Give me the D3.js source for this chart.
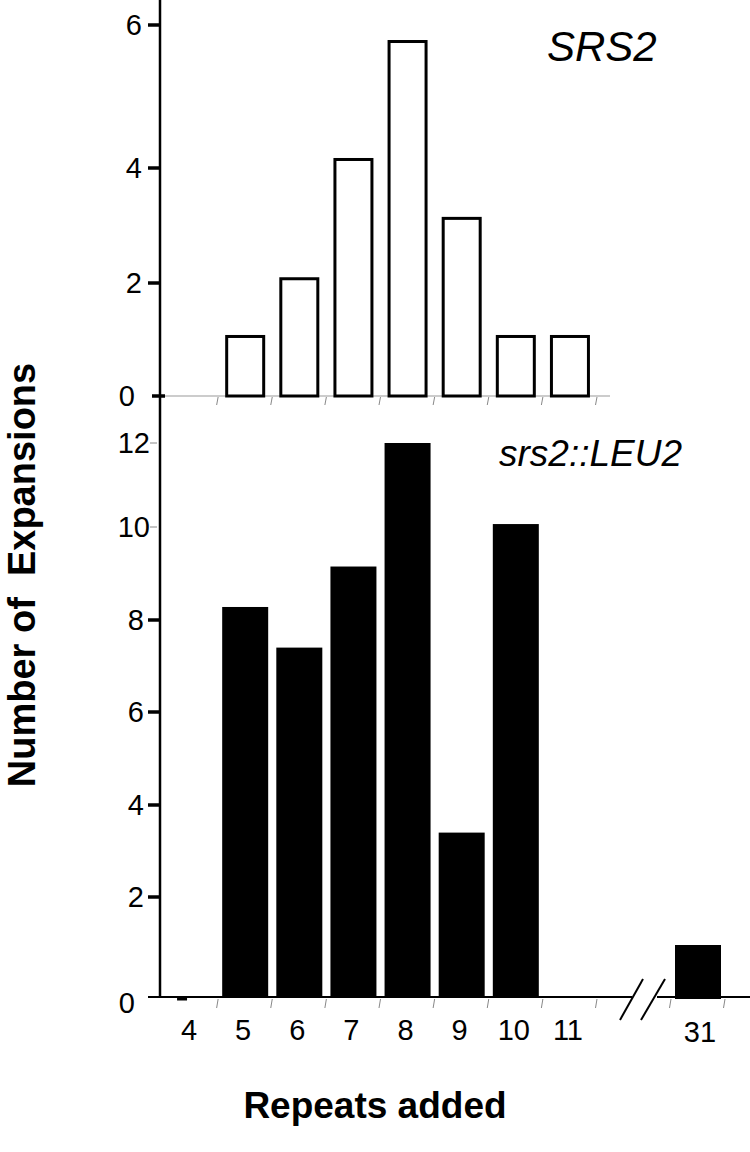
<!DOCTYPE html>
<html><head><meta charset="utf-8">
<script src="https://cdn.jsdelivr.net/npm/d3@7"></script>
<style>
body{margin:0;background:#fff;}
svg{display:block;font-family:"Liberation Sans",Arial,Helvetica,sans-serif;}
</style></head>
<body><svg id="c" width="750" height="1152"></svg>
<script>
// Data
const categories = [4,5,6,7,8,9,10,11];
const srs2Values = [0,1.08,2.1,4.14,5.79,3.15,1.08,1.08];          // SRS2 (open bars)
const leu2Values = [0,8.28,7.4,9.15,12,3.4,10.07,0];               // srs2::LEU2 (black bars)
const breakCategories = [31];
const breakValues = [1.04];
const topTicks = [0,2,4,6];
const bottomTicks = [0,2,4,6,8,10,12];

const svg = d3.select("#c");
const AX = 160;
const FS = 29;

// scales
const x = d3.scaleBand().domain(categories).range([164,597]);
const xb = d3.scaleBand().domain(breakCategories).range([671,725]);
const yTop = d3.scaleLinear().domain(topTicks).range([396,283,168,25]);
const yBot = d3.scaleLinear().domain(bottomTicks).range([997,897,805,712,620,527,443]);

// Top panel baseline (grey)
svg.append("line").attr("x1",AX+2).attr("x2",610).attr("y1",yTop(0)).attr("y2",yTop(0))
  .attr("stroke","#999").attr("stroke-width",1.2);
const bounds = categories.slice(1).map(c=>x(c)).concat([x.range()[1]]);
svg.selectAll(".tb").data(bounds).join("line")
  .attr("x1",d=>d).attr("x2",d=>d-1.5).attr("y1",yTop(0)+1).attr("y2",yTop(0)+9)
  .attr("stroke","#888").attr("stroke-width",1);

// top bars
const bw1 = 40;
svg.selectAll(".tbar").data(categories.map((c,i)=>({c,v:srs2Values[i]})).filter(d=>d.v>0)).join("rect")
  .attr("x",d=>x(d.c)+x.bandwidth()/2-bw1/2+1.5).attr("width",bw1-3)
  .attr("y",d=>yTop(d.v)+1.5).attr("height",d=>yTop(0)-yTop(d.v)-1.5)
  .attr("fill","#fff").attr("stroke","#000").attr("stroke-width",3);

// bottom bars
const bw2 = 46;
svg.selectAll(".bbar").data(categories.map((c,i)=>({c,v:leu2Values[i]})).filter(d=>d.v>0)).join("rect")
  .attr("x",d=>x(d.c)+x.bandwidth()/2-bw2/2).attr("width",bw2)
  .attr("y",d=>yBot(d.v)).attr("height",d=>yBot(0)-yBot(d.v))
  .attr("fill","#000");
svg.selectAll(".brbar").data(breakCategories.map((c,i)=>({c,v:breakValues[i]}))).join("rect")
  .attr("x",d=>xb(d.c)+xb.bandwidth()/2-bw2/2).attr("width",bw2)
  .attr("y",d=>yBot(d.v)).attr("height",d=>yBot(0)-yBot(d.v)+2)
  .attr("fill","#000");

// bottom x-axis line with break
const y0 = yBot(0);
svg.append("line").attr("x1",148).attr("x2",632).attr("y1",y0).attr("y2",y0).attr("stroke","#000").attr("stroke-width",2);
svg.append("line").attr("x1",657).attr("x2",750).attr("y1",y0).attr("y2",y0).attr("stroke","#000").attr("stroke-width",2);
[[620,643],[641,665]].forEach(([a,b])=>{
  svg.append("line").attr("x1",a).attr("y1",1020).attr("x2",b).attr("y2",979).attr("stroke","#000").attr("stroke-width",2);
});
// small mark at category 4
svg.append("line").attr("x1",x(4)+x.bandwidth()/2-14).attr("x2",x(4)+x.bandwidth()/2-4)
  .attr("y1",y0+2).attr("y2",y0+2).attr("stroke","#000").attr("stroke-width",3);
const bb = bounds.concat(xb.range());
svg.selectAll(".bt").data(bb).join("line")
  .attr("x1",d=>d).attr("x2",d=>d-1.5).attr("y1",y0+2).attr("y2",y0+11)
  .attr("stroke","#888").attr("stroke-width",1);

// x labels
svg.selectAll(".xl").data(categories).join("text")
  .attr("x",d=>x(d)+x.bandwidth()/2-2).attr("y",1040).attr("text-anchor","middle")
  .attr("font-size",FS).text(d=>d);
svg.selectAll(".xl2").data(breakCategories).join("text")
  .attr("x",d=>xb(d)+xb.bandwidth()/2+2).attr("y",1042).attr("text-anchor","middle")
  .attr("font-size",FS).text(d=>d);

// Y axis line
svg.append("line").attr("x1",AX).attr("x2",AX).attr("y1",0).attr("y2",y0+1).attr("stroke","#000").attr("stroke-width",2.5);

// top y ticks
svg.selectAll(".yt").data(topTicks).join("line")
  .attr("x1",d=>d===0?152:148).attr("x2",d=>d===0?165:AX).attr("y1",d=>yTop(d)).attr("y2",d=>yTop(d))
  .attr("stroke","#000").attr("stroke-width",3.5);
svg.selectAll(".ytl").data(topTicks).join("text")
  .attr("x",d=>d===0?135:142).attr("y",d=>yTop(d)+10).attr("text-anchor","end")
  .attr("font-size",FS).text(d=>d);

// bottom y ticks
svg.selectAll(".ybt").data(bottomTicks.filter(d=>d>0)).join("line")
  .attr("x1",d=>d>=10?150:148).attr("x2",d=>d>=10?157:AX).attr("y1",d=>yBot(d)).attr("y2",d=>yBot(d))
  .attr("stroke",d=>d>=10?"#888":"#000").attr("stroke-width",d=>d>=10?1:3.5);
svg.selectAll(".ybtl").data(bottomTicks).join("text")
  .attr("x",d=>d===0?135:(d>=10?150:144)).attr("y",d=>yBot(d)+10+(d===0?6:0)).attr("text-anchor","end")
  .attr("font-size",FS).text(d=>d);

// panel labels
svg.append("text").attr("x",547).attr("y",61).attr("font-size",42).attr("font-style","italic").text("SRS2");
svg.append("text").attr("x",499).attr("y",466).attr("font-size",37).attr("font-style","italic").text("srs2::LEU2");

// axis titles
svg.append("text").attr("x",375).attr("y",1118).attr("text-anchor","middle")
  .attr("font-size",37).attr("font-weight","bold").text("Repeats added");
svg.append("text").attr("transform","translate(35,575) rotate(-90)").attr("text-anchor","middle")
  .attr("font-size",38).attr("font-weight","bold").style("white-space","pre")
  .text("Number of  Expansions");
</script></body></html>
